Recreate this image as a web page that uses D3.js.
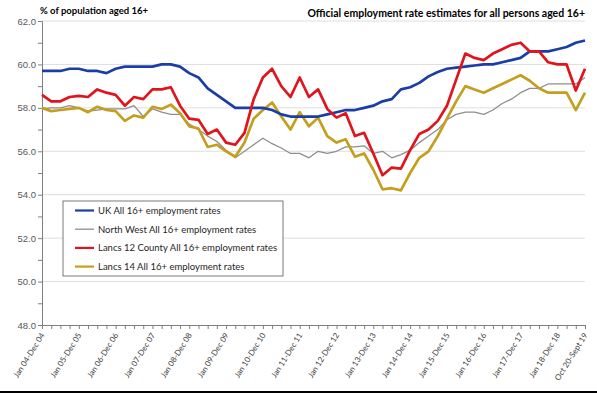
<!DOCTYPE html>
<html>
<head>
<meta charset="utf-8">
<script src="https://cdn.jsdelivr.net/npm/d3@7"></script>
<style>
  html, body { margin: 0; padding: 0; background: #fff; }
  svg { display: block; font-family: Lato, "Open Sans", sans-serif; }
</style>
</head>
<body>
<div id="chart"></div>
<script>
// Rolling annual periods, quarterly (Jan 04-Dec 04 ... Oct 18-Sept 19)
const periods = d3.range(60).map((i) => "p" + i);
const tickLabels = [
  "Jan 04-Dec 04", "Jan 05-Dec 05", "Jan 06-Dec 06", "Jan 07-Dec 07", "Jan 08-Dec 08",
  "Jan 09-Dec 09", "Jan 10-Dec 10", "Jan 11-Dec 11", "Jan 12-Dec 12", "Jan 13-Dec 13",
  "Jan 14-Dec 14", "Jan 15-Dec 15", "Jan 16-Dec 16", "Jan 17-Dec 17", "Jan 18-Dec 18",
  "Oct 20-Sept 19"
];
const tickIndex = [0, 4, 8, 12, 16, 20, 24, 28, 32, 36, 40, 44, 48, 52, 56, 59];

const ukRates = [
  59.7, 59.7, 59.7, 59.8, 59.8, 59.7, 59.7, 59.6, 59.8, 59.9,
  59.9, 59.9, 59.9, 60.0, 60.0, 59.9, 59.6, 59.4, 58.9, 58.6,
  58.3, 58.0, 58.0, 58.0, 58.0, 57.9, 57.7, 57.6, 57.6, 57.6,
  57.6, 57.7, 57.8, 57.9, 57.9, 58.0, 58.1, 58.3, 58.4, 58.85,
  58.95, 59.15, 59.45, 59.65, 59.8, 59.85, 59.9, 59.95, 60.0, 60.0,
  60.1, 60.2, 60.3, 60.6, 60.6, 60.6, 60.7, 60.8, 61.0, 61.1
];
const northWestRates = [
  57.95, 58.0, 58.0, 58.1, 58.0, 57.85, 57.9, 57.95, 57.95, 57.95,
  58.1, 57.6, 57.95, 57.8, 57.7, 57.7, 57.25, 57.0, 56.7, 56.45,
  56.05, 55.7, 56.0, 56.3, 56.6, 56.35, 56.15, 55.9, 55.9, 55.7,
  56.0, 55.9, 56.0, 56.2, 56.2, 56.25, 55.9, 56.0, 55.7, 55.85,
  56.05, 56.4, 56.7, 57.0, 57.45, 57.7, 57.8, 57.8, 57.7, 57.9,
  58.2, 58.4, 58.7, 58.9, 58.9, 59.1, 59.1, 59.1, 59.1, 59.4
];
const lancs12Rates = [
  58.6, 58.3, 58.3, 58.5, 58.55, 58.5, 58.85, 58.7, 58.6, 58.1,
  58.5, 58.4, 58.85, 58.85, 58.95, 58.1, 57.5, 57.45, 56.8, 57.0,
  56.4, 56.3, 56.85, 58.4, 59.4, 59.8, 59.0, 58.5, 59.4, 58.5,
  58.85, 57.95, 57.55, 57.75, 56.7, 56.85, 55.9, 54.9, 55.25, 55.2,
  56.05, 56.8, 57.0, 57.4, 58.1, 59.3, 60.5, 60.3, 60.2, 60.5,
  60.7, 60.9, 61.0, 60.6, 60.6, 60.1, 60.0, 60.0, 58.8, 59.8
];
const lancs14Rates = [
  58.0, 57.85, 57.9, 57.95, 58.0, 57.8, 58.05, 57.9, 57.85, 57.4,
  57.65, 57.55, 58.05, 57.95, 58.15, 57.75, 57.15, 57.05, 56.2, 56.3,
  56.0, 55.75, 56.4, 57.5, 57.9, 58.25, 57.6, 57.0, 57.8, 57.15,
  57.55, 56.7, 56.4, 56.55, 55.75, 55.9, 55.15, 54.25, 54.3, 54.2,
  55.0, 55.7, 56.0, 56.7, 57.5, 58.3, 59.0, 58.85, 58.7, 58.9,
  59.1, 59.3, 59.5, 59.25, 58.9, 58.7, 58.7, 58.7, 57.9, 58.7
];

const seriesNames = [
  "UK All 16+ employment rates",
  "North West All 16+ employment rates",
  "Lancs 12 County All 16+ employment rates",
  "Lancs 14 All 16+ employment rates"
];
const seriesValues = [ukRates, northWestRates, lancs12Rates, lancs14Rates];
const seriesColors = ["#1b3ea6", "#8e8e8e", "#e0141c", "#c49f1f"];
const seriesWidths = [2.7, 1.3, 2.7, 2.7];

const yTicks = [48, 50, 52, 54, 56, 58, 60, 62];

const width = 597, height = 394;
const margin = { top: 21, right: 12, bottom: 69, left: 42 };

const svg = d3.select("#chart").append("svg").attr("width", width).attr("height", height);

const x = d3.scalePoint().domain(periods).range([margin.left, width - margin.right]);
const y = d3.scaleLinear().domain([48, 62]).range([height - margin.bottom, margin.top]);

// gridlines
svg.append("g")
  .selectAll("line")
  .data(yTicks.slice(1))
  .join("line")
  .attr("x1", margin.left).attr("x2", width - margin.right)
  .attr("y1", (d) => y(d)).attr("y2", (d) => y(d))
  .attr("stroke", "#dedede").attr("stroke-width", 1);

// y axis (major + minor ticks)
const yAxis = svg.append("g")
  .attr("transform", `translate(${margin.left},0)`)
  .call(d3.axisLeft(y).tickValues(d3.range(48, 62.5, 1)).tickSize(4)
    .tickFormat((d) => (d % 2 === 0 ? d3.format(".1f")(d) : "")));
yAxis.select(".domain").attr("stroke", "#7f7f7f");
yAxis.selectAll(".tick line").attr("stroke", "#7f7f7f");
yAxis.selectAll(".tick text").attr("fill", "#595959").attr("font-size", 9.5).attr("x", -6);

// x axis
const xAxis = svg.append("g")
  .attr("transform", `translate(0,${height - margin.bottom})`)
  .call(d3.axisBottom(x).tickSize(4).tickFormat(() => ""));
xAxis.select(".domain").attr("stroke", "#7f7f7f");
xAxis.selectAll(".tick line").attr("stroke", "#7f7f7f");

svg.append("g")
  .selectAll("text")
  .data(tickIndex)
  .join("text")
  .attr("transform", (d) => `translate(${x(periods[d]) + 3},${height - margin.bottom + 10}) rotate(-58)`)
  .attr("text-anchor", "end")
  .attr("font-size", 8)
  .attr("fill", "#404040")
  .text((d, i) => tickLabels[i]);

// lines
const line = d3.line().x((d, i) => x(periods[i])).y((d) => y(d));
svg.append("g")
  .selectAll("path")
  .data([1, 3, 0, 2])
  .join("path")
  .attr("d", (k) => line(seriesValues[k]))
  .attr("fill", "none")
  .attr("stroke", (k) => seriesColors[k])
  .attr("stroke-width", (k) => seriesWidths[k])
  .attr("stroke-linejoin", "round");

// legend
const legend = svg.append("g").attr("transform", "translate(63,201)");
legend.append("rect")
  .attr("width", 220).attr("height", 75)
  .attr("fill", "#fff").attr("stroke", "#595959").attr("stroke-width", 0.8);
const items = legend.selectAll("g.item")
  .data(seriesNames)
  .join("g")
  .attr("class", "item")
  .attr("transform", (d, i) => `translate(0,${9.5 + i * 18.7})`);
items.append("line")
  .attr("x1", 12).attr("x2", 31)
  .attr("stroke", (d, i) => seriesColors[i])
  .attr("stroke-width", (d, i) => (i === 1 ? 1.3 : 2.2));
items.append("text")
  .attr("x", 35).attr("dy", "0.35em")
  .attr("font-size", 9.5).attr("fill", "#262626")
  .text((d) => d);

// titles
svg.append("text")
  .attr("x", 40).attr("y", 14)
  .attr("font-size", 9.5).attr("font-weight", "bold").attr("fill", "#000")
  .text("% of population aged 16+");
svg.append("text")
  .attr("x", 585).attr("y", 17)
  .attr("text-anchor", "end")
  .attr("font-size", 10.5).attr("font-weight", "bold").attr("fill", "#000")
  .text("Official employment rate estimates for all persons aged 16+");

// bottom frame line
svg.append("line")
  .attr("x1", 0).attr("x2", width).attr("y1", 392).attr("y2", 392)
  .attr("stroke", "#000").attr("stroke-width", 2);
</script>
</body>
</html>
